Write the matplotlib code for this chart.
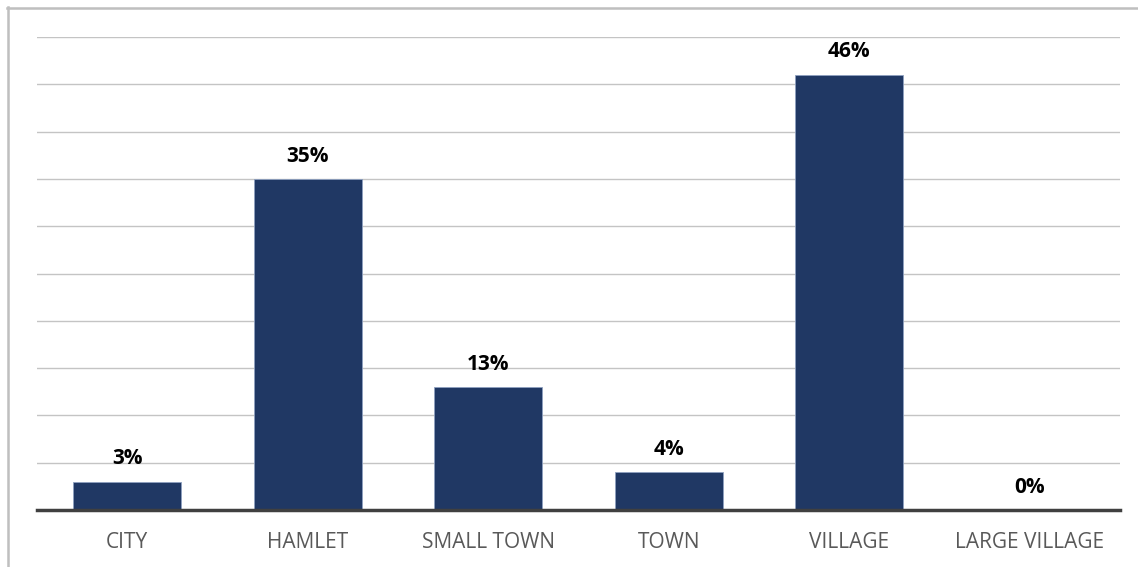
import matplotlib.pyplot as plt
from matplotlib.lines import Line2D

# settlement types and their share of responses (%)
categories = ["CITY", "HAMLET", "SMALL TOWN", "TOWN", "VILLAGE", "LARGE VILLAGE"]
shares = [3, 35, 13, 4, 46, 0]

plt.rcParams['font.family'] = ['Open Sans', 'DejaVu Sans']

fig = plt.figure(figsize=(11.38, 5.67), dpi=100)
ax = fig.add_axes([37 / 1138, 57 / 567, 1083 / 1138, 473 / 567])

x = range(len(categories))
bars = ax.bar(x, shares, width=0.6, color="#203864", edgecolor="#8ea0c0",
              linewidth=0.6, zorder=3)

for rect, v in zip(bars, shares):
    ax.annotate(f"{v}%", (rect.get_x() + rect.get_width() / 2, v),
                xytext=(0, 12.5), textcoords="offset points",
                ha="center", va="baseline", fontsize=15, fontweight="bold",
                color="black", zorder=4)

ax.set_xlim(-0.5, len(categories) - 0.5)
ax.set_ylim(0, 50)
ax.set_yticks(range(0, 51, 5))
ax.yaxis.grid(True, color="#c4c4c4", linewidth=1)
ax.set_axisbelow(True)
ax.tick_params(axis="y", left=False, labelleft=False)
ax.tick_params(axis="x", length=0, pad=16, labelsize=15, labelcolor="#595959")
ax.set_xticks(list(x))
ax.set_xticklabels(categories)

for side in ["top", "right", "left"]:
    ax.spines[side].set_visible(False)
ax.spines["bottom"].set_color("#404040")
ax.spines["bottom"].set_linewidth(2.5)
ax.spines["bottom"].set_zorder(5)

# outer chart frame, clipped on the right and bottom
fig.add_artist(Line2D([7.5 / 1138, 7.5 / 1138], [0, 1 - 7 / 567],
                      transform=fig.transFigure, color="#bfbfbf", linewidth=1.8))
fig.add_artist(Line2D([7 / 1138, 1], [1 - 7.5 / 567, 1 - 7.5 / 567],
                      transform=fig.transFigure, color="#bfbfbf", linewidth=1.8))

fig.savefig("out.png", dpi=100)
